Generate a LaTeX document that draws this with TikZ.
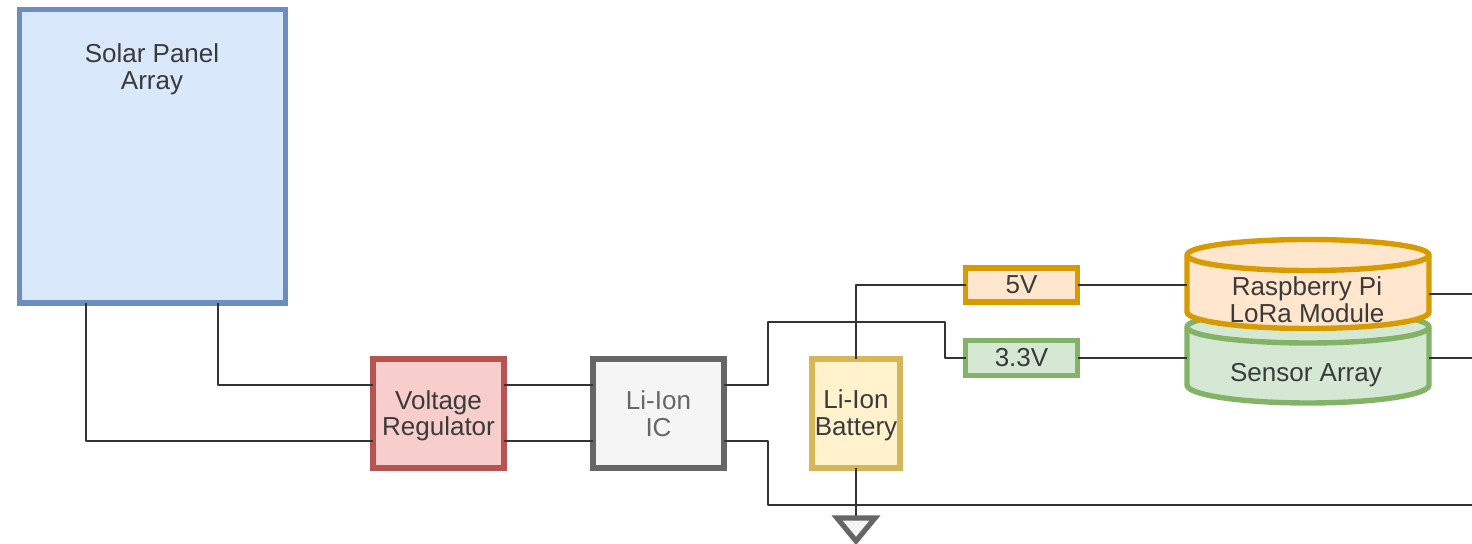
\documentclass[tikz,border=0pt]{standalone}
\usepackage{fontspec}
\setmainfont{Liberation Sans}
\usetikzlibrary{calc}
\definecolor{wirec}{HTML}{333333}
\definecolor{textc}{HTML}{3A3A3A}
\definecolor{sblue}{HTML}{6C8EBF}\definecolor{sbluef}{HTML}{DAE8FC}
\definecolor{sred}{HTML}{B85450}\definecolor{sredf}{HTML}{F8CECC}
\definecolor{sgray}{HTML}{666666}\definecolor{sgrayf}{HTML}{F5F5F5}
\definecolor{syel}{HTML}{D6B656}\definecolor{syelf}{HTML}{FFF2CC}
\definecolor{sora}{HTML}{D79B00}\definecolor{sorf}{HTML}{FFE6CC}
\definecolor{sgrn}{HTML}{82B366}\definecolor{sgrnf}{HTML}{D5E8D4}
\newcommand\lift[1]{\rule{0pt}{#1pt}}
\tikzset{
  x=0.5pt,y=-0.5pt,
  lbl/.style={text=textc,font=\fontsize{13}{13.4}\selectfont,align=center,inner sep=0pt},
  box/.style={rectangle,lbl,line width=2.7pt,outer sep=0pt},
  solarbox/.style={box,draw=sblue,fill=sbluef},
  regbox/.style={box,draw=sred,fill=sredf},
  icbox/.style={box,draw=sgray,fill=sgrayf,text=sgray},
  batbox/.style={box,draw=syel,fill=syelf},
  orangebox/.style={box,draw=sora,fill=sorf},
  greenbox/.style={box,draw=sgrn,fill=sgrnf},
  canframe/.style={rectangle,minimum width=121pt,outer sep=0pt,inner sep=0pt},
  canline/.style={line width=2.7pt,line join=round},
  wire/.style={draw=wirec,line width=1.1pt,line join=round},
  gndmark/.style={draw=sgray,fill=sgrayf,line width=2.6pt,line join=miter},
}
\begin{document}
\begin{tikzpicture}
\useasboundingbox (0,0) rectangle (1472,544);
% boxes
\node[solarbox,minimum width=132.75pt,minimum height=146.7pt] (solar) at (152.5,156.5) {};
\node[lbl,anchor=north] (solarText) at (152,43.5) {Solar Panel\\Array};
\node[regbox,minimum width=65.5pt,minimum height=54.5pt] (reg) at (438.5,413.5) {\lift{11.8}Voltage\\Regulator};
\node[icbox,minimum width=65.5pt,minimum height=54.5pt] (ic) at (658.5,413.5) {Li-Ion\\IC};
\node[batbox,minimum width=44pt,minimum height=54.5pt] (bat) at (856,413.5) {\lift{11.4}Li-Ion\\Battery};
\node[orangebox,minimum width=56pt,minimum height=17pt] (v5) at (1021.5,285) {5V};
\node[greenbox,minimum width=56pt,minimum height=17.5pt] (v33) at (1021.5,358) {3.3V};
% sensor cylinder
\node[canframe,minimum height=40pt] (sensor) at (1308,358) {};
\draw[canline,draw=sgrn,fill=sgrnf] (sensor.west |- 0,327)
  arc[start angle=180,end angle=0,x radius=60.5pt,y radius=8pt]
  -- (sensor.east |- 0,385)
  arc[start angle=0,end angle=-180,x radius=60.5pt,y radius=9pt] -- cycle;
\draw[canline,draw=sgrn] (sensor.west |- 0,327)
  arc[start angle=180,end angle=360,x radius=60.5pt,y radius=8pt];
\node[lbl] (sensorText) at (1306,375.5) {Sensor Array};
% pi cylinder
\node[canframe,minimum height=44pt] (pi) at (1308,284.5) {};
\draw[canline,draw=sora,fill=sorf] (pi.west |- 0,255)
  arc[start angle=180,end angle=0,x radius=60.5pt,y radius=7.75pt]
  -- (pi.east |- 0,312)
  arc[start angle=0,end angle=-180,x radius=60.5pt,y radius=8.25pt] -- cycle;
\draw[canline,draw=sora] (pi.west |- 0,255)
  arc[start angle=180,end angle=360,x radius=60.5pt,y radius=7.75pt];
\node[lbl] (piText) at (1307,300) {Raspberry Pi\\LoRa Module};
% rails
\coordinate (xa) at (86,0);
\coordinate (xb) at (218,0);
\coordinate (ya) at (0,385);
\coordinate (yb) at (0,441);
\coordinate (xc) at (768,0);
\coordinate (xd) at (945,0);
\coordinate (yc) at (0,322);
\coordinate (yd) at (0,505);
\coordinate (e1) at (1472,294);
\coordinate (e2) at (1472,358);
\coordinate (e3) at (1472,505);
\coordinate (gnd) at (856,517);
% wires
\draw[wire] (solar.south -| xb) |- (reg.west |- ya);
\draw[wire] (solar.south -| xa) |- (reg.west |- yb);
\draw[wire] (reg.east |- ya) -- (ic.west |- ya);
\draw[wire] (reg.east |- yb) -- (ic.west |- yb);
\draw[wire] (ic.east |- ya) -| (xc |- yc) -| (xd |- v33.west) -- (v33.west);
\draw[wire] (ic.east |- yb) -| (xc |- yd) -- (e3);
\draw[wire] (bat.north) |- (v5.west);
\draw[wire] (bat.south) -- (gnd);
\draw[wire] (v5.east) -- (pi.west |- v5.east);
\draw[wire] (v33.east) -- (sensor.west |- v33.east);
\draw[wire] (pi.east |- e1) -- (e1);
\draw[wire] (sensor.east |- e2) -- (e2);
% ground
\draw[gndmark] (837,518) -- (875,518) -- (856,541) -- cycle;
\end{tikzpicture}
\end{document}
